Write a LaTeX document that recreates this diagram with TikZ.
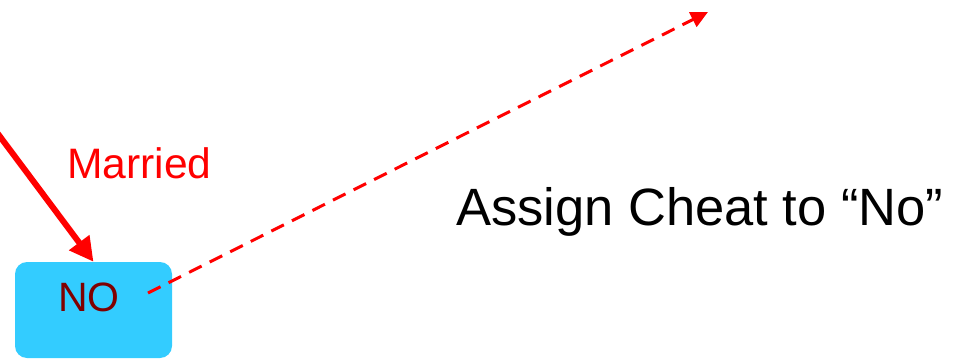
\documentclass[tikz,border=0pt]{standalone}
\usepackage{fontspec}
\setmainfont{Liberation Sans}
\usepackage{tikz}
\usetikzlibrary{arrows.meta,positioning}
\definecolor{TreeRed}{HTML}{FF0000}
\definecolor{TreeMaroon}{HTML}{800000}
\definecolor{TreeCyan}{HTML}{33CCFF}

\begin{document}
\begin{tikzpicture}[
  x=1pt,y=-1pt,
  leaf/.style={fill=TreeCyan,rounded corners=12pt,minimum width=157pt,minimum height=96pt,inner sep=0pt,
    text=TreeMaroon,font=\fontsize{41}{45}\selectfont,text depth=26pt},
  edgelabel/.style={text=TreeRed,inner sep=0pt,anchor=base west,font=\fontsize{42.6}{46}\selectfont},
  note/.style={inner sep=0pt,anchor=base west,font=\fontsize{52.5}{58}\selectfont},
  branch/.style={-{Triangle[length=24pt,width=24pt]},line width=6pt,draw=TreeRed},
  assign/.style={-{Triangle[length=17pt,width=16pt]},line width=3pt,draw=TreeRed,dash pattern=on 14pt off 9pt}
]
\useasboundingbox (0,0) rectangle (961,361);
\node[leaf] (no) at (93.5,310) {NO\kern9pt};
\node[edgelabel] (married) at (67,178) {Married};
\node[note] (rule) at (456,225) {Assign Cheat to “No”};
\coordinate (parent) at (-40,83);
\coordinate (target) at (708,12);
\draw[branch] (parent) -- (no.north);
\draw[assign] ([shift={(54.5,-17)}]no.center) -- (target);
\end{tikzpicture}
\end{document}
